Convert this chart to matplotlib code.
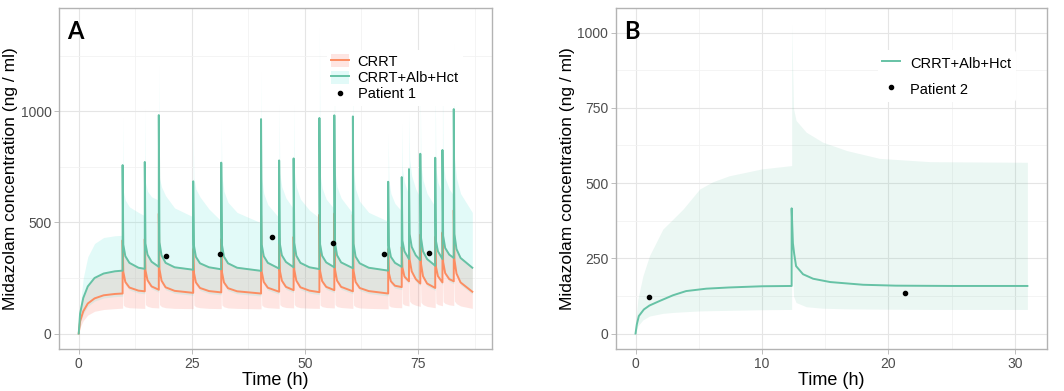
import matplotlib
matplotlib.use("Agg")
import matplotlib.pyplot as plt
from matplotlib.patches import Patch
from matplotlib.lines import Line2D
from matplotlib.ticker import MultipleLocator

plt.rcParams['font.family'] = ['Liberation Sans', 'DejaVu Sans']

# ---- panel A : patient 1, CRRT vs CRRT+Alb+Hct ----
t_a = [0, 0.3, 1, 2, 3.5, 5.5, 8, 9.7,
       9.7, 9.85, 10.3, 11.2, 13.2, 14.6,
       14.6, 14.75, 15.2, 16.1, 17.7,
       17.7, 17.85, 18.3, 19.2, 21.2, 25.3,
       25.3, 25.45, 25.9, 26.8, 28.8, 31.5,
       31.5, 31.65, 32.1, 33.0, 35.0, 40.3,
       40.3, 40.45, 40.9, 41.8, 44.3,
       44.3, 44.45, 44.9, 45.8, 47.5,
       47.5, 47.65, 48.1, 49.0, 51.0, 53.2,
       53.2, 53.35, 53.8, 54.7, 56.5,
       56.5, 56.65, 57.1, 58.0, 60.6,
       60.6, 60.75, 61.2, 62.1, 64.1, 68.4,
       68.4, 68.55, 69.0, 69.9, 71.4,
       71.4, 71.55, 72.0, 73.0,
       73.0, 73.15, 73.6, 74.5, 75.5,
       75.5, 75.65, 76.1, 77.0, 78.8,
       78.8, 78.95, 79.4, 80.4,
       80.4, 80.55, 81.0, 81.9, 82.9,
       82.9, 83.05, 83.5, 84.4, 87.0]

alb_mid = [0, 90, 160, 212, 250, 270, 280, 283,
           758, 400, 348, 318, 296, 291,
           772, 405, 355, 323, 300,
           983, 410, 352, 318, 298, 287,
           685, 398, 345, 316, 298, 289,
           769, 400, 346, 316, 296, 282,
           965, 400, 348, 318, 292,
           779, 405, 352, 322, 298,
           788, 408, 350, 318, 298, 290,
           970, 402, 350, 320, 298,
           982, 408, 352, 320, 294,
           977, 404, 346, 316, 296, 283,
           683, 395, 345, 318, 300,
           704, 418, 370, 335,
           740, 447, 390, 352, 330,
           809, 432, 370, 335, 305,
           791, 418, 370, 335,
           826, 440, 385, 355, 340,
           1010, 447, 380, 340, 296]

alb_lo = [0, 45, 88, 122, 146, 160, 166, 168,
          300, 265, 220, 196, 182, 179,
          305, 272, 228, 201, 186,
          310, 277, 226, 197, 181, 172,
          296, 264, 219, 194, 180, 174,
          298, 266, 219, 193, 179, 169,
          298, 266, 221, 195, 177,
          304, 272, 227, 199, 184,
          307, 275, 227, 197, 182, 175,
          302, 270, 225, 199, 184,
          308, 276, 227, 199, 179,
          303, 271, 221, 194, 180, 169,
          293, 261, 224, 204, 198,
          318, 286, 245, 224,
          353, 320, 268, 234, 214,
          335, 303, 247, 214, 194,
          322, 290, 247, 219,
          342, 310, 261, 234, 224,
          352, 320, 259, 219, 177]

alb_hi = [0, 120, 250, 345, 405, 432, 440, 442,
          980, 640, 600, 570, 545, 530,
          1020, 680, 640, 615, 600,
          1220, 700, 660, 620, 565, 525,
          900, 700, 650, 615, 560, 506,
          970, 710, 640, 590, 545, 498,
          1190, 700, 630, 580, 520,
          1040, 720, 660, 610, 560,
          1040, 730, 660, 605, 555, 520,
          1395, 720, 655, 605, 560,
          1280, 730, 660, 610, 540,
          1250, 720, 650, 595, 545, 505,
          905, 690, 630, 585, 550,
          950, 740, 680, 620,
          1000, 780, 710, 650, 610,
          1100, 760, 690, 630, 570,
          1150, 740, 680, 620,
          1200, 770, 700, 650, 620,
          1320, 790, 700, 630, 545]

crrt_mid = [0, 55, 100, 135, 158, 172, 178, 180,
            420, 278, 232, 207, 193, 190,
            425, 285, 240, 212, 197,
            540, 290, 238, 208, 192, 183,
            380, 276, 230, 205, 191, 185,
            425, 278, 230, 204, 190, 180,
            530, 278, 232, 206, 188,
            430, 284, 238, 210, 195,
            435, 287, 238, 208, 193, 186,
            535, 282, 236, 210, 195,
            540, 288, 238, 210, 190,
            535, 283, 232, 205, 191, 180,
            380, 273, 235, 215, 209,
            390, 298, 256, 235,
            410, 333, 280, 245, 225,
            445, 315, 258, 225, 205,
            435, 302, 258, 230,
            455, 322, 272, 245, 235,
            555, 332, 270, 230, 188]

crrt_lo = [0, 28, 58, 83, 100, 108, 112, 114,
           260, 128, 120, 116, 114, 113,
           260, 130, 122, 117, 115,
           270, 130, 121, 116, 113, 112,
           255, 128, 120, 116, 113, 112,
           260, 128, 120, 115, 113, 111,
           268, 128, 120, 116, 113,
           262, 130, 122, 117, 115,
           262, 130, 121, 116, 114, 113,
           268, 128, 121, 117, 115,
           270, 130, 121, 117, 113,
           268, 128, 120, 115, 113, 111,
           255, 126, 120, 117, 116,
           265, 135, 128, 124,
           275, 145, 135, 127, 122,
           280, 140, 130, 122, 116,
           275, 137, 130, 125,
           285, 143, 135, 129, 126,
           295, 146, 134, 124, 113]

crrt_hi = [0, 95, 165, 217, 255, 275, 285, 288,
           600, 405, 353, 323, 301, 296,
           610, 410, 360, 328, 305,
           780, 415, 357, 323, 303, 292,
           540, 403, 350, 321, 303, 294,
           610, 405, 351, 321, 301, 287,
           770, 405, 353, 323, 297,
           620, 410, 357, 327, 303,
           630, 413, 355, 323, 303, 295,
           775, 407, 355, 325, 303,
           785, 413, 357, 325, 299,
           780, 409, 351, 321, 301, 288,
           545, 400, 350, 323, 305,
           560, 423, 375, 340,
           590, 452, 395, 357, 335,
           645, 437, 375, 340, 310,
           630, 423, 375, 340,
           660, 445, 390, 360, 345,
           800, 452, 385, 345, 301]

p1_t = [19.3, 31.3, 42.8, 56.1, 67.4, 77.4]
p1_c = [347, 359, 434, 407, 360, 362]

# ---- panel B : patient 2 ----
tb_line = [0, 0.1, 0.26, 0.66, 1.1, 1.9, 2.96, 4.0, 5.6, 7.4, 10, 12.35,
           12.35, 12.45, 12.55, 12.7, 13.25, 14.05, 15.4, 18, 20.6, 25, 31]
b_mid = [0, 30, 58, 80, 93, 108, 127, 141, 149, 153, 157, 158,
         416, 300, 265, 224, 197, 182, 171, 162, 159, 158, 158]

tb_band = [0, 0.05, 0.18, 0.58, 1.1, 2.16, 2.96, 3.75, 5.07, 6.1, 7.4, 10, 12.35,
           12.35, 12.5, 12.7, 13.5, 14.8, 16.7, 19.3, 23.3, 31]
b_lo = [0, 10, 25, 45, 58, 67, 70, 72, 75, 76, 77, 79, 80,
        300, 124, 103, 89, 84, 82, 81, 80, 80]
b_hi = [0, 50, 113, 191, 258, 347, 380, 413, 480, 504, 524, 547, 558,
        1030, 747, 708, 669, 636, 608, 582, 571, 569]

p2_t = [1.1, 21.35]
p2_c = [122, 134]

green = '#66C2A5'
orange = '#FC8D62'
cyan_fill = '#40E0D0'
pink_fill = '#FA8072'


def style(ax, xmaj, ymaj):
    ax.xaxis.set_major_locator(MultipleLocator(xmaj))
    ax.xaxis.set_minor_locator(MultipleLocator(xmaj / 2))
    ax.yaxis.set_major_locator(MultipleLocator(ymaj))
    ax.yaxis.set_minor_locator(MultipleLocator(ymaj / 2))
    ax.grid(which='major', color='#E5E5E5', lw=0.8, zorder=0)
    ax.grid(which='minor', color='#F2F2F2', lw=0.6, zorder=0)
    ax.set_axisbelow(True)
    for s in ax.spines.values():
        s.set_color('#B3B3B3')
        s.set_linewidth(1.0)
    ax.tick_params(which='major', length=3.5, width=0.6, color='#B3B3B3',
                   labelsize=10, labelcolor='#4D4D4D', pad=2)
    ax.tick_params(which='minor', length=0)
    ax.set_xlabel('Time (h)', fontsize=13, labelpad=1)
    ax.set_ylabel('Midazolam concentration (ng / ml)', fontsize=12.5, labelpad=2)


fig = plt.figure(figsize=(10.64, 3.91), dpi=100)
axA = fig.add_axes([0.0555, 0.1074, 0.4069, 0.872])
axB = fig.add_axes([0.5789, 0.1074, 0.4051, 0.872])

# panel A
axA.fill_between(t_a, crrt_lo, crrt_hi, color=pink_fill, alpha=0.2, lw=0, zorder=2)
axA.fill_between(t_a, alb_lo, alb_hi, color=cyan_fill, alpha=0.15, lw=0, zorder=2)
axA.plot(t_a, crrt_mid, color=orange, lw=1.4, zorder=3)
axA.plot(t_a, alb_mid, color=green, lw=1.4, zorder=3)
axA.plot(p1_t, p1_c, 'o', color='black', ms=3, zorder=4)
axA.set_xlim(-4.35, 91.35)
axA.set_ylim(-69.75, 1464.75)
style(axA, 25, 500)
axA.text(0.018, 0.965, 'A', transform=axA.transAxes, fontsize=17,
         fontweight='bold', family='Lato', va='top', ha='left')

hA = [(Patch(facecolor=pink_fill, alpha=0.2, lw=0), Line2D([], [], color=orange, lw=1.4)),
      (Patch(facecolor=cyan_fill, alpha=0.15, lw=0), Line2D([], [], color=green, lw=1.4)),
      Line2D([], [], ls='none', marker='o', ms=3, color='black')]
legA = axA.legend(hA, ['CRRT', 'CRRT+Alb+Hct', 'Patient 1'], loc='upper left',
                  bbox_to_anchor=(0.619, 0.877), frameon=True, fontsize=10.5,
                  handlelength=1.2, handleheight=1.0, handletextpad=0.6,
                  labelspacing=0.12, borderpad=0.3, borderaxespad=0)
legA.get_frame().set_facecolor('white')
legA.get_frame().set_edgecolor('none')
legA.get_frame().set_alpha(1)

# panel B
axB.fill_between(tb_band, b_lo, b_hi, color=green, alpha=0.13, lw=0, zorder=2)
axB.plot(tb_line, b_mid, color=green, lw=1.4, zorder=3)
axB.plot(p2_t, p2_c, 'o', color='black', ms=3, zorder=4)
axB.set_xlim(-1.55, 32.55)
axB.set_ylim(-51.5, 1081.5)
style(axB, 10, 250)
axB.text(0.018, 0.965, 'B', transform=axB.transAxes, fontsize=17,
         fontweight='bold', family='Lato', va='top', ha='left')

hB = [Line2D([], [], color=green, lw=1.4),
      Line2D([], [], ls='none', marker='o', ms=3, color='black')]
legB = axB.legend(hB, ['CRRT+Alb+Hct', 'Patient 2'], loc='upper left',
                  bbox_to_anchor=(0.608, 0.877), frameon=True, fontsize=10.5,
                  handlelength=1.2, handleheight=1.5, handletextpad=0.7,
                  labelspacing=0.55, borderpad=0.3, borderaxespad=0)
legB.get_frame().set_facecolor('white')
legB.get_frame().set_edgecolor('none')
legB.get_frame().set_alpha(1)

fig.savefig('out.png', dpi=100)
